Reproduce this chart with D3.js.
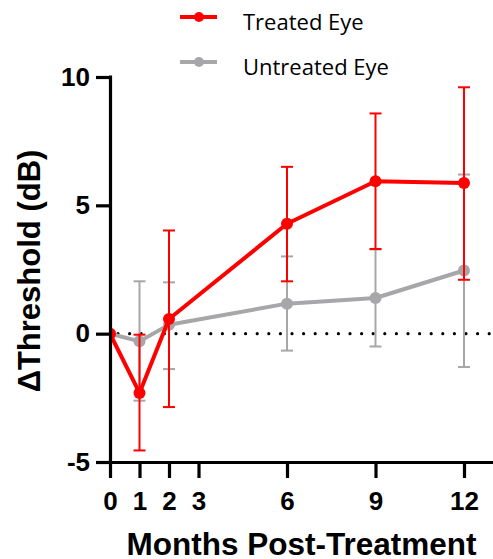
<!DOCTYPE html>
<html>
<head>
<meta charset="utf-8">
<script src="https://cdn.jsdelivr.net/npm/d3@7"></script>
<style>
  html, body { margin: 0; padding: 0; background: #fff; }
  svg { display: block; }
</style>
</head>
<body>
<svg id="chart" width="493" height="559"></svg>
<script>
// ---- data ----
const months = [0, 1, 2, 6, 9, 12];
const treatedMean = [0, -2.31, 0.57, 4.28, 5.94, 5.87];
const treatedUpper = [0, -0.04, 4.02, 6.50, 8.58, 9.60];
const treatedLower = [0, -4.55, -2.86, 2.04, 3.30, 2.10];
const untreatedMean = [0, -0.30, 0.35, 1.17, 1.39, 2.46];
const untreatedUpper = [0, 2.04, 2.00, 3.01, 3.28, 6.20];
const untreatedLower = [0, -2.61, -1.38, -0.66, -0.50, -1.30];
const xTicks = [0, 1, 2, 3, 6, 9, 12];
const yTicks = [-5, 0, 5, 10];
const seriesNames = ["Treated Eye", "Untreated Eye"];
const seriesColors = ["#FF0000", "#A7A7AA"];

const svg = d3.select("#chart");
const x = d3.scaleLinear().domain([0, 13]).range([110, 493.5]);
const y = d3.scaleLinear().domain([-5, 10]).range([462, 77]);

const series = [
  { name: seriesNames[1], color: seriesColors[1], mean: untreatedMean, up: untreatedUpper, lo: untreatedLower },
  { name: seriesNames[0], color: seriesColors[0], mean: treatedMean, up: treatedUpper, lo: treatedLower }
];

svg.append("defs").append("clipPath").attr("id", "plotclip")
  .append("rect").attr("x", x(0)).attr("y", 0).attr("width", 400).attr("height", 559);

// dotted zero line
svg.append("line")
  .attr("x1", x(0) + 8).attr("x2", 493)
  .attr("y1", y(0)).attr("y2", y(0))
  .attr("stroke", "#000").attr("stroke-width", 3.2)
  .attr("stroke-linecap", "round")
  .attr("stroke-dasharray", "0,11.6");

const plot = svg.append("g").attr("clip-path", "url(#plotclip)");

series.forEach(s => {
  const g = plot.append("g");
  const pts = months.map((m, i) => ({ m, v: s.mean[i], up: s.up[i], lo: s.lo[i] }));
  const eb = pts.filter(d => d.up !== d.lo);
  g.selectAll(".eb").data(eb).join("line")
    .attr("x1", d => x(d.m)).attr("x2", d => x(d.m))
    .attr("y1", d => y(d.up)).attr("y2", d => y(d.lo))
    .attr("stroke", s.color).attr("stroke-width", 2);
  g.selectAll(".capu").data(eb).join("line")
    .attr("x1", d => x(d.m) - 6).attr("x2", d => x(d.m) + 6)
    .attr("y1", d => y(d.up)).attr("y2", d => y(d.up))
    .attr("stroke", s.color).attr("stroke-width", 2);
  g.selectAll(".capl").data(eb).join("line")
    .attr("x1", d => x(d.m) - 6).attr("x2", d => x(d.m) + 6)
    .attr("y1", d => y(d.lo)).attr("y2", d => y(d.lo))
    .attr("stroke", s.color).attr("stroke-width", 2);
  g.append("path").datum(pts)
    .attr("d", d3.line().x(d => x(d.m)).y(d => y(d.v)))
    .attr("fill", "none").attr("stroke", s.color).attr("stroke-width", 4)
    .attr("stroke-linejoin", "round");
  g.selectAll(".pt").data(pts).join("circle")
    .attr("cx", d => x(d.m)).attr("cy", d => y(d.v)).attr("r", 6)
    .attr("fill", s.color);
});

// axes
const fontBold = "'Liberation Sans', Arial, sans-serif";
const fmt = d => String(d);
const yAxis = svg.append("g").attr("transform", `translate(${x(0)},0)`)
  .call(d3.axisLeft(y).tickValues(yTicks).tickSize(14).tickSizeOuter(0).tickPadding(6).tickFormat(fmt));
const xAxis = svg.append("g").attr("transform", `translate(0,${y(-5)})`)
  .call(d3.axisBottom(x).tickValues(xTicks).tickSize(16).tickSizeOuter(0).tickPadding(14).tickFormat(fmt));
[yAxis, xAxis].forEach(a => {
  a.select(".domain").attr("stroke", "#000").attr("stroke-width", 3.2);
  a.selectAll(".tick line").attr("stroke", "#000").attr("stroke-width", 3.2);
  a.selectAll(".tick text").attr("fill", "#000")
    .style("font-family", fontBold).style("font-weight", "bold").style("font-size", "26px");
});
yAxis.select(".domain").attr("d", `M0.5,${y(10) - 1.5}V${y(-5)}`);
xAxis.select(".domain").attr("d", `M${x(0) - 1.5},0.5H493`);

// axis titles
svg.append("text")
  .attr("x", 301.5).attr("y", 555)
  .attr("text-anchor", "middle")
  .style("font-family", fontBold).style("font-weight", "bold").style("font-size", "31.5px")
  .text("Months Post-Treatment");
svg.append("text")
  .attr("transform", "translate(40,271) rotate(-90)")
  .attr("text-anchor", "middle")
  .style("font-family", fontBold).style("font-weight", "bold").style("font-size", "31px")
  .text("\u0394Threshold (dB)");

// legend
const legendY = [17, 62];
[series[1], series[0]].forEach((s, i) => {
  const g = svg.append("g").attr("transform", `translate(0,${legendY[i]})`);
  g.append("line").attr("x1", 180).attr("x2", 217).attr("y1", 0).attr("y2", 0)
    .attr("stroke", s.color).attr("stroke-width", 4);
  g.append("circle").attr("cx", 199).attr("cy", 0).attr("r", 5).attr("fill", s.color);
  g.append("text").attr("x", 243).attr("y", 12.5)
    .style("font-family", "'Open Sans', Lato, sans-serif").style("font-size", "22px")
    .attr("fill", "#000")
    .text(s.name);
});
</script>
</body>
</html>
